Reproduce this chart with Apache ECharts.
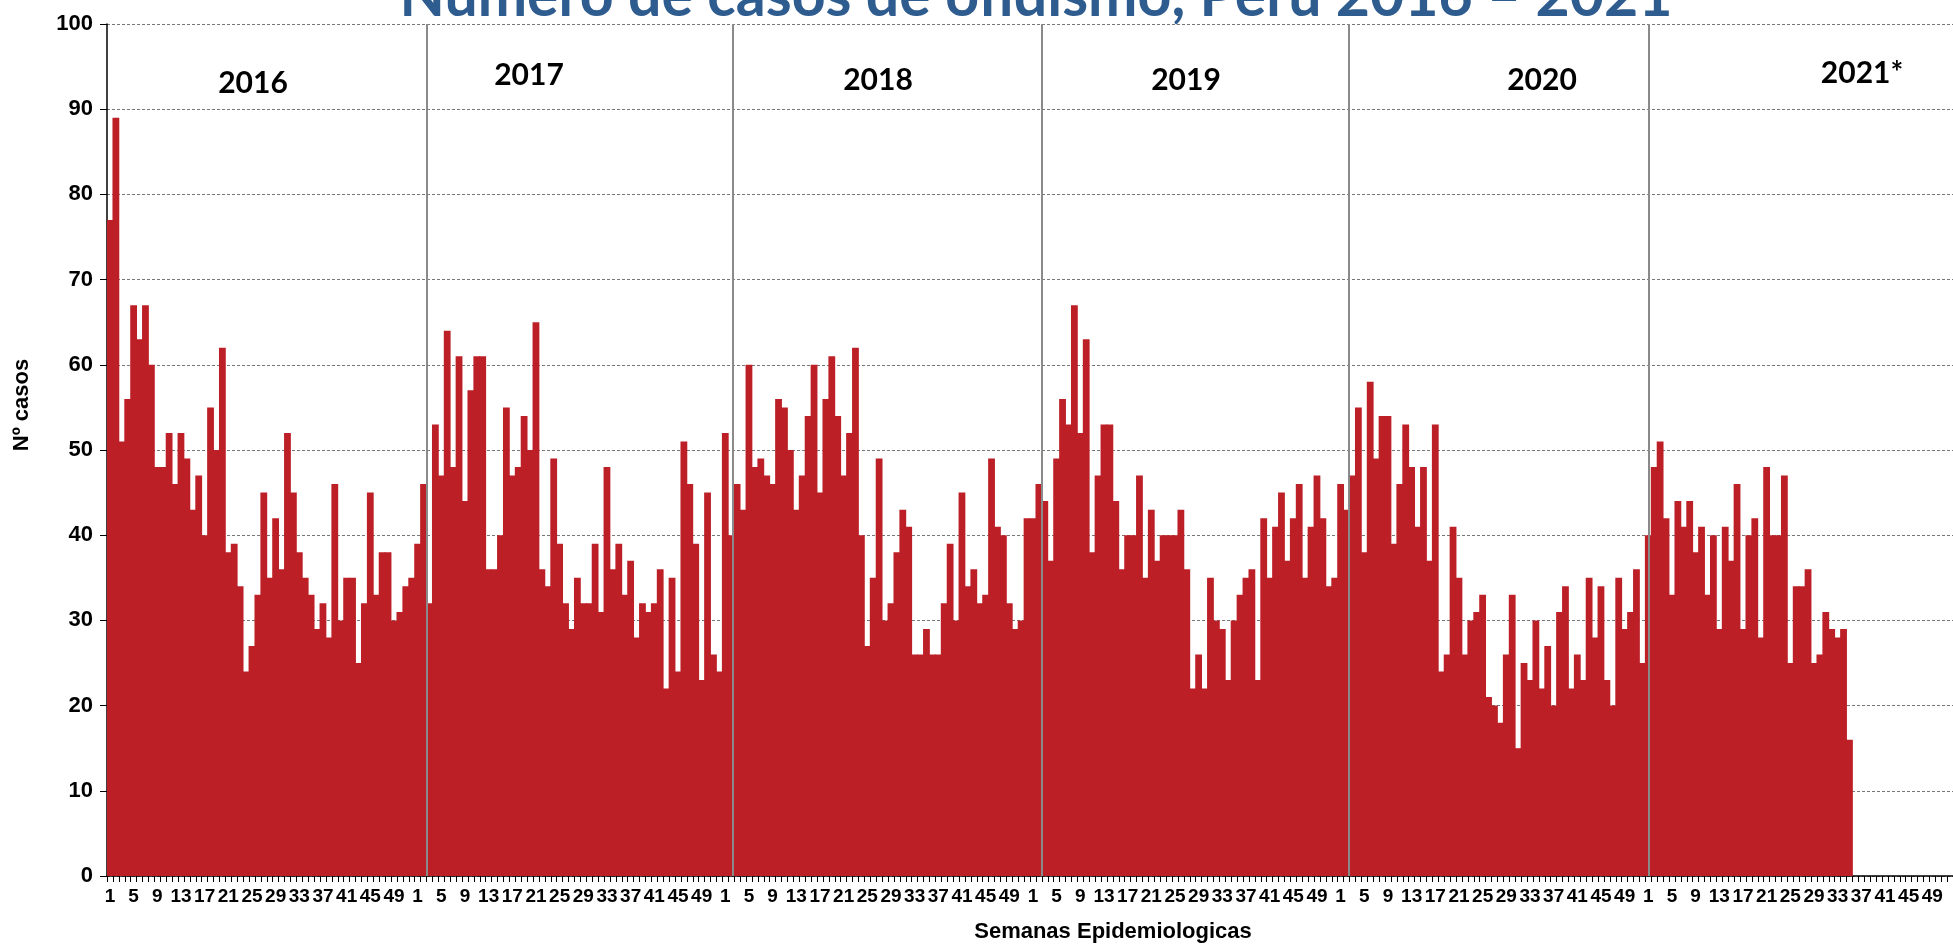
<!DOCTYPE html>
<html>
<head>
<meta charset="utf-8">
<script src="https://cdn.jsdelivr.net/npm/echarts@6/dist/echarts.min.js"></script>
<style>
html,body{margin:0;padding:0;background:#ffffff;}
#chart{width:1953px;height:948px;}
</style>
</head>
<body>
<div id="chart"></div>
<script>
// ---- data ----
const years = ['2016', '2017', '2018', '2019', '2020', '2021'];
const yearLabels = ['2016', '2017', '2018', '2019', '2020', '2021*'];
const weekTickLabels = Array.from({length: 52}, (_, i) => String(i + 1));
const yTicks = [0, 10, 20, 30, 40, 50, 60, 70, 80, 90, 100];

const cases2016 = [77,89,51,56,67,63,67,60,48,48,52,46,52,49,43,47,40,55,50,62,38,39,34,24,27,33,45,35,42,36,52,45,38,35,33,29,32,28,46,30,35,35,25,32,45,33,38,38,30,31,34,35];
const cases2017 = [39,46,32,53,47,64,48,61,44,57,61,61,36,36,40,55,47,48,54,50,65,36,34,49,39,32,29,35,32,32,39,31,48,36,39,33,37,28,32,31,32,36,22,35,24,51,46,39,23,45,26,24];
const cases2018 = [52,40,46,43,60,48,49,47,46,56,55,50,43,47,54,60,45,56,61,54,47,52,62,40,27,35,49,30,32,38,43,41,26,26,29,26,26,32,39,30,45,34,36,32,33,49,41,40,32,29,30,42];
const cases2019 = [42,46,44,37,49,56,53,67,52,63,38,47,53,53,44,36,40,40,47,35,43,37,40,40,40,43,36,22,26,22,35,30,29,23,30,33,35,36,23,42,35,41,45,37,42,46,35,41,47,42,34,35];
const cases2020 = [46,43,47,55,38,58,49,54,54,39,46,53,48,41,48,37,53,24,26,41,35,26,30,31,33,21,20,18,26,33,15,25,23,30,22,27,20,31,34,22,26,23,35,28,34,23,20,35,29,31,36,25];
const cases2021 = [40,48,51,42,33,44,41,44,38,41,33,40,29,41,37,46,29,40,42,28,48,40,40,47,25,34,34,36,25,26,31,29,28,29,16];

// year separators, in weeks counted from the start of 2016 (as drawn in the original)
const yearDividerAt = [54.0, 105.7, 158.0, 209.8, 260.5];

// ---- build ----
const allCases = [cases2016, cases2017, cases2018, cases2019, cases2020, cases2021];
const categories = [];
const values = [];
years.forEach((y, yi) => {
  weekTickLabels.forEach((w, wi) => {
    categories.push(y + '-' + w);
    const v = allCases[yi][wi];
    values.push(v === undefined ? null : v);
  });
});
const totalWeeks = categories.length;

const GRID_LEFT = 107, GRID_TOP = 24, GRID_W = 1860, GRID_H = 852;
const ARIAL = '"Liberation Sans", Arial, sans-serif';
const CAL = 'Lato, "Open Sans", sans-serif';
const BAR = '#BD1F26';

const yearLabelPos = [[253, 83], [529, 75], [878, 80], [1186, 80], [1542, 80], [1862, 73]];

const chart = echarts.init(document.getElementById('chart'), null, {renderer: 'canvas'});
chart.setOption({
  animation: false,
  backgroundColor: '#ffffff',
  grid: {left: GRID_LEFT, top: GRID_TOP, width: GRID_W, height: GRID_H, containLabel: false},
  xAxis: [{
    type: 'category',
    data: categories,
    boundaryGap: true,
    axisLine: {show: true, lineStyle: {color: '#000', width: 1.5}},
    axisTick: {show: true, interval: 0, length: 6, lineStyle: {color: '#000', width: 1}},
    axisLabel: {
      interval: 3,
      margin: 11,
      color: '#000',
      fontFamily: ARIAL,
      fontWeight: 'bold',
      fontSize: 19,
      formatter: v => v.split('-')[1]
    },
    splitLine: {show: false}
  }, {
    type: 'value',
    min: 0,
    max: totalWeeks,
    show: false
  }],
  yAxis: {
    type: 'value',
    min: 0,
    max: 100,
    interval: 10,
    axisLine: {show: true, lineStyle: {color: '#000', width: 1.5}},
    axisTick: {show: true, length: 7, lineStyle: {color: '#000'}},
    axisLabel: {
      margin: 14,
      color: '#000',
      fontFamily: ARIAL,
      fontWeight: 'bold',
      fontSize: 22,
      formatter: v => (yTicks.indexOf(v) >= 0 ? String(v) : '')
    },
    splitLine: {show: true, lineStyle: {color: '#777', width: 1, type: [3, 2]}}
  },
  series: [{
    type: 'bar',
    data: values,
    barWidth: 6.8,
    barGap: '-100%',
    itemStyle: {color: BAR},
    emphasis: {disabled: true}
  }, {
    type: 'line',
    xAxisIndex: 1,
    data: [],
    showSymbol: false,
    silent: true,
    markLine: {
      silent: true,
      symbol: 'none',
      label: {show: false},
      lineStyle: {color: '#8a8a8a', width: 2, type: 'solid'},
      data: yearDividerAt.map(x => ({xAxis: x}))
    }
  }],
  graphic: [
    {
      type: 'text',
      style: {
        x: 1036, y: 26, text: 'Número de casos de ofidismo, Perú 2016 – 2021',
        fill: '#2E5C8F', font: 'bold 59px ' + CAL,
        textAlign: 'center', textVerticalAlign: 'bottom'
      }
    },
    ...yearLabels.map((t, i) => ({
      type: 'text',
      style: {
        x: yearLabelPos[i][0], y: yearLabelPos[i][1], text: t,
        fill: '#000', font: 'bold 30px ' + CAL,
        textAlign: 'center', textVerticalAlign: 'middle'
      }
    })),
    {
      type: 'text',
      style: {
        x: 1113, y: 932, text: 'Semanas Epidemiologicas',
        fill: '#000', font: 'bold 22px ' + ARIAL,
        textAlign: 'center', textVerticalAlign: 'middle'
      }
    },
    {
      type: 'text',
      x: 22, y: 405, rotation: Math.PI / 2,
      style: {
        x: 0, y: 0, text: 'Nº casos',
        fill: '#000', font: 'bold 22px ' + ARIAL,
        textAlign: 'center', textVerticalAlign: 'middle'
      }
    }
  ]
});
</script>
</body>
</html>
